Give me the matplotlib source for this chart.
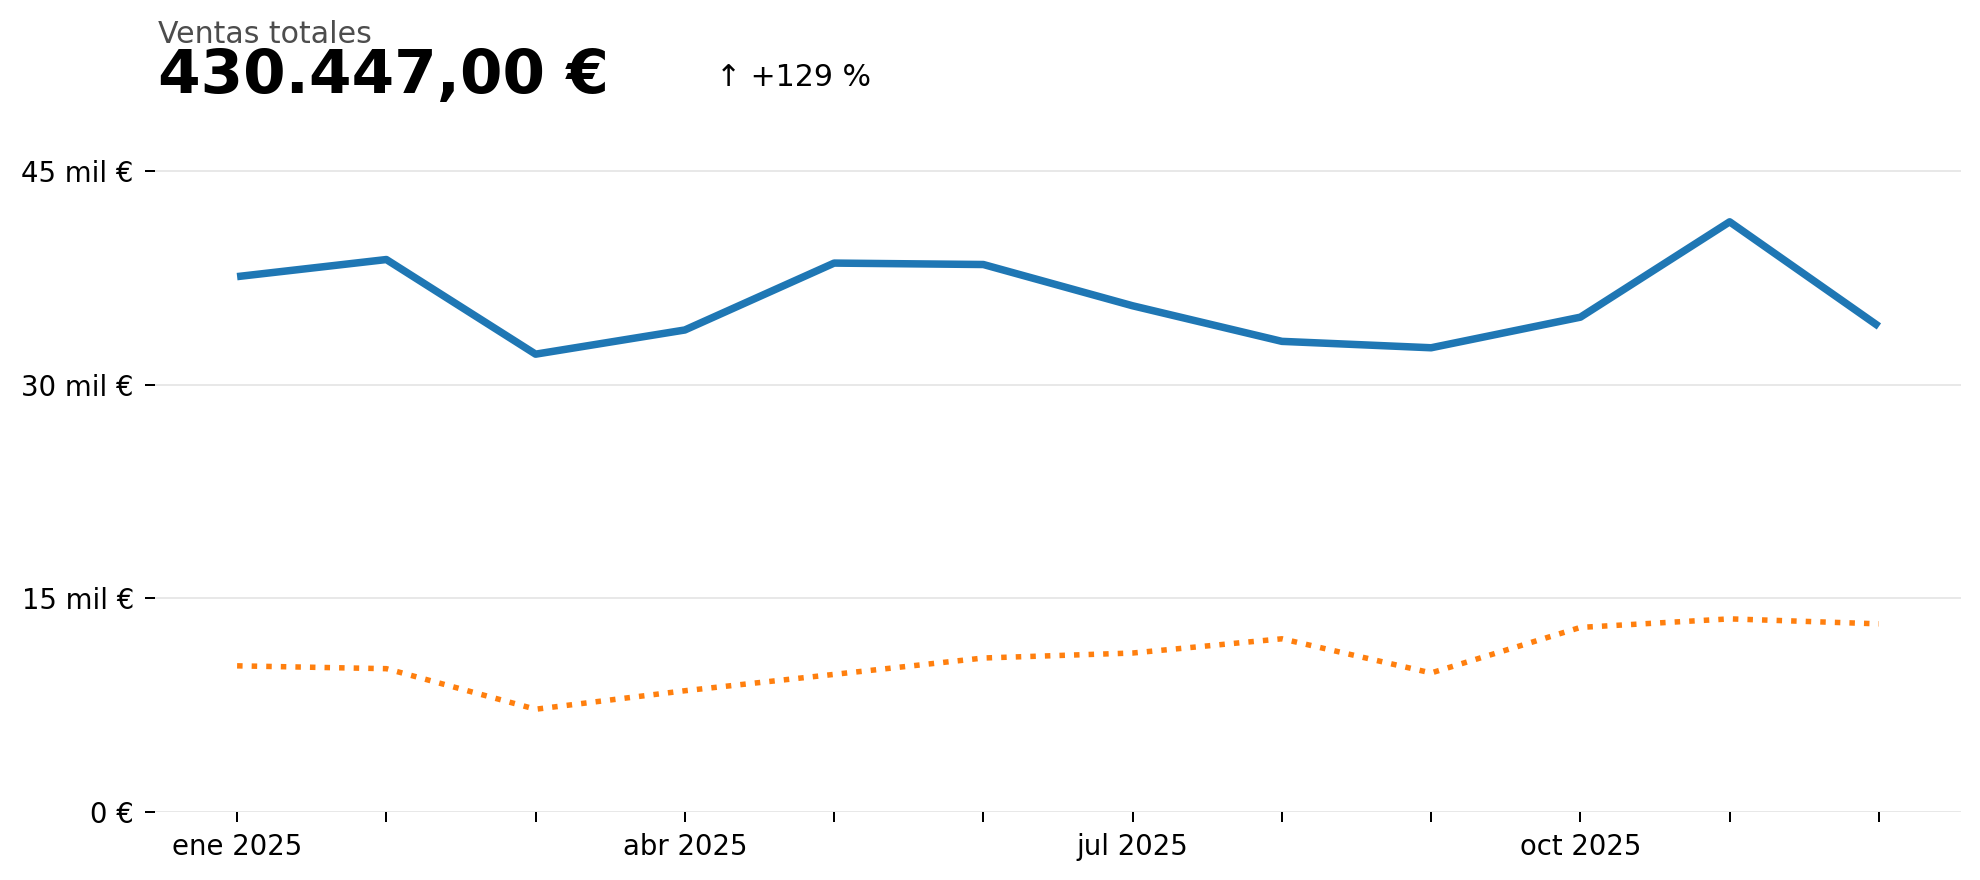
import matplotlib
matplotlib.use("Agg")
import matplotlib.pyplot as plt
from matplotlib.ticker import FuncFormatter

months = ["ene", "feb", "mar", "abr", "may", "jun", "jul", "ago", "sep", "oct", "nov", "dic"]
tick_labels = ["ene 2025", "", "", "abr 2025", "", "", "jul 2025", "", "", "oct 2025", "", ""]
ventas_2025 = [37600, 38800, 32150, 33850, 38550, 38450, 35550, 33050, 32600, 34750, 41450, 34100]
ventas_2024 = [10250, 10050, 7200, 8500, 9650, 10800, 11150, 12150, 9750, 12950, 13550, 13200]
yticks = [0, 15000, 30000, 45000]
title_label = "Ventas totales"
title_value = "430.447,00 €"
delta_text = "↑ +129 %"

W, H, DPI = 1980, 880, 180
fig = plt.figure(figsize=(W / DPI, H / DPI), dpi=DPI)
ax = fig.add_axes([155 / W, (H - 811.7) / H, (1961 - 155) / W, 0.7439])

x = list(range(len(months)))
ax.plot(x, ventas_2025, color="#1f77b4", lw=3, solid_capstyle="butt", zorder=3)
ax.plot(x, ventas_2024, color="#ff7f0e", lw=2.2, ls=":", zorder=3)

ax.set_ylim(0, 46000)
ax.set_yticks(yticks)


def fmt(v, pos):
    if v == 0:
        return "0 €"
    return f"{int(round(v / 1000))} mil €"


ax.yaxis.set_major_formatter(FuncFormatter(fmt))
ax.set_xticks(x)
ax.set_xticklabels(tick_labels)
ax.tick_params(axis="both", labelsize=11, colors="black", length=4, width=0.8, pad=4.5)
ax.grid(axis="y", color="#e8e8e8", lw=0.8, zorder=0)
ax.grid(axis="x", visible=False)
for s in ax.spines.values():
    s.set_visible(False)

fig.text(158 / W, 1 - 42.7 / H, title_label, fontsize=12, color="#4d4d4d", va="baseline", ha="left")
fig.text(158 / W, 1 - 93.3 / H, title_value, fontsize=24.5, fontweight="bold", color="black",
         va="baseline", ha="left")
fig.text(716 / W, 1 - 86 / H, delta_text, fontsize=12, color="black", va="baseline", ha="left")

fig.savefig("out.png", dpi=DPI, facecolor="white")
